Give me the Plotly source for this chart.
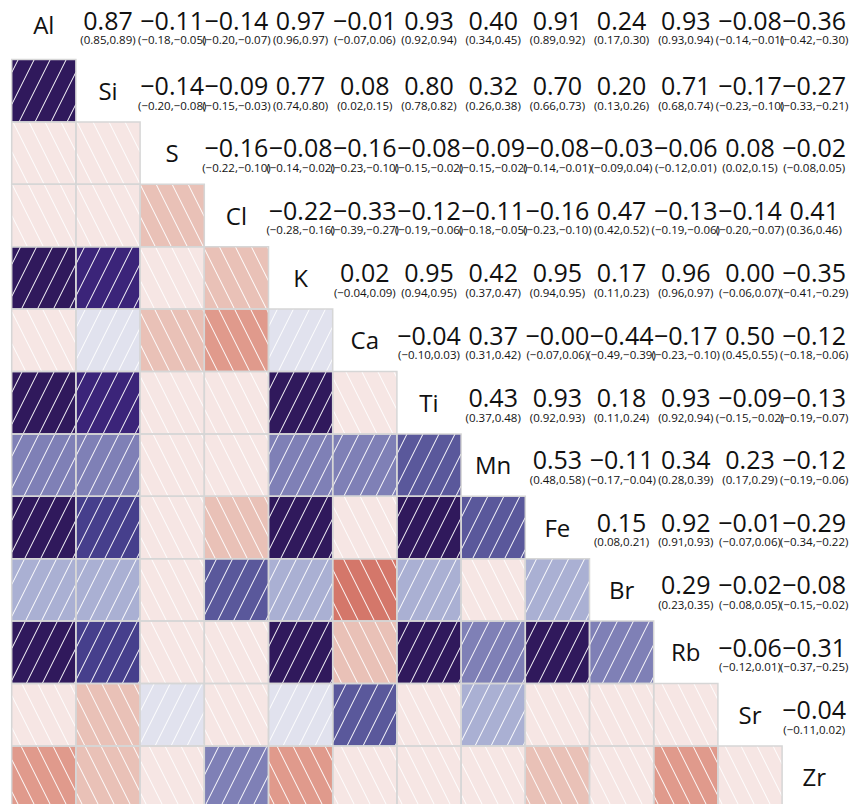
import numpy as np
import plotly.graph_objects as go

# Elements in matrix order
elements = ["Al", "Si", "S", "Cl", "K", "Ca", "Ti", "Mn", "Fe", "Br", "Rb", "Sr", "Zr"]

# Correlation r(i, j) for j > i, one list per row i
r_rows = [
    [0.87, -0.11, -0.14, 0.97, -0.01, 0.93, 0.40, 0.91, 0.24, 0.93, -0.08, -0.36],
    [-0.14, -0.09, 0.77, 0.08, 0.80, 0.32, 0.70, 0.20, 0.71, -0.17, -0.27],
    [-0.16, -0.08, -0.16, -0.08, -0.09, -0.08, -0.03, -0.06, 0.08, -0.02],
    [-0.22, -0.33, -0.12, -0.11, -0.16, 0.47, -0.13, -0.14, 0.41],
    [0.02, 0.95, 0.42, 0.95, 0.17, 0.96, 0.00, -0.35],
    [-0.04, 0.37, -0.00, -0.44, -0.17, 0.50, -0.12],
    [0.43, 0.93, 0.18, 0.93, -0.09, -0.13],
    [0.53, -0.11, 0.34, 0.23, -0.12],
    [0.15, 0.92, -0.01, -0.29],
    [0.29, -0.02, -0.08],
    [-0.06, -0.31],
    [-0.04],
]

# Lower bounds of the confidence intervals
ci_low_rows = [
    [0.85, -0.18, -0.20, 0.96, -0.07, 0.92, 0.34, 0.89, 0.17, 0.93, -0.14, -0.42],
    [-0.20, -0.15, 0.74, 0.02, 0.78, 0.26, 0.66, 0.13, 0.68, -0.23, -0.33],
    [-0.22, -0.14, -0.23, -0.15, -0.15, -0.14, -0.09, -0.12, 0.02, -0.08],
    [-0.28, -0.39, -0.19, -0.18, -0.23, 0.42, -0.19, -0.20, 0.36],
    [-0.04, 0.94, 0.37, 0.94, 0.11, 0.96, -0.06, -0.41],
    [-0.10, 0.31, -0.07, -0.49, -0.23, 0.45, -0.18],
    [0.37, 0.92, 0.11, 0.92, -0.15, -0.19],
    [0.48, -0.17, 0.28, 0.17, -0.19],
    [0.08, 0.91, -0.07, -0.34],
    [0.23, -0.08, -0.15],
    [-0.12, -0.37],
    [-0.11],
]

# Upper bounds of the confidence intervals
ci_high_rows = [
    [0.89, -0.05, -0.07, 0.97, 0.06, 0.94, 0.45, 0.92, 0.30, 0.94, -0.01, -0.30],
    [-0.08, -0.03, 0.80, 0.15, 0.82, 0.38, 0.73, 0.26, 0.74, -0.10, -0.21],
    [-0.10, -0.02, -0.10, -0.02, -0.02, -0.01, 0.04, 0.01, 0.15, 0.05],
    [-0.16, -0.27, -0.06, -0.05, -0.10, 0.52, -0.06, -0.07, 0.46],
    [0.09, 0.95, 0.47, 0.95, 0.23, 0.97, 0.07, -0.29],
    [0.03, 0.42, 0.06, -0.39, -0.10, 0.55, -0.06],
    [0.48, 0.93, 0.24, 0.94, -0.02, -0.07],
    [0.58, -0.04, 0.39, 0.29, -0.06],
    [0.21, 0.93, 0.06, -0.22],
    [0.35, 0.05, -0.02],
    [0.01, -0.25],
    [0.02],
]

# Binned diverging palette (negative -> red, positive -> purple)
bin_edges = [-0.43, -0.30, -0.15, 0.0, 0.15, 0.28, 0.43, 0.57, 0.72, 0.86]
bin_colors = ["#d4776a", "#e09a8c", "#e9c1b7", "#f6e6e4",
              "#e1e2ee", "#aab0d3", "#7f80b6", "#5a589b", "#463f8c", "#3b2479", "#30195c"]

FONT = "Open Sans"
W_FIG, H_FIG = 849, 804
COL_W, ROW_H = 64.2, 62.4        # cell pitch in pixels
X_LEFT, Y_TOP = 11.7, -2.9       # pixel position of the grid's top-left corner
HATCH_GAP, HATCH_SLOPE = 16.0, 2.0


def fmt(v):
    return f"{v:.2f}".replace("-", "\u2212")


def colour_index(v):
    if np.signbit(v) and v == 0:
        return 3
    return int(np.digitize(v, bin_edges))


def to_data(px, py):
    return (px - X_LEFT) / COL_W, (py - Y_TOP) / ROW_H


n = len(elements)
fig = go.Figure()

# Lower triangle: coloured cells with hatching
shapes = []
hx, hy = [], []
for i in range(n):
    for j in range(i):
        v = r_rows[j][i - j - 1]
        k = colour_index(v)
        shapes.append(dict(type="rect", xref="x", yref="y", x0=j, x1=j + 1, y0=i, y1=i + 1,
                           fillcolor=bin_colors[k], line=dict(width=0), layer="below"))
        pxL, pxR = X_LEFT + j * COL_W, X_LEFT + (j + 1) * COL_W
        pyT, pyB = Y_TOP + i * ROW_H, Y_TOP + (i + 1) * ROW_H
        s = HATCH_SLOPE
        if k >= 4:   # positive: "/" stripes, px + py/s = c
            cmin, cmax = pxL + pyT / s, pxR + pyB / s
        else:        # negative: "\" stripes, px - py/s = c
            cmin, cmax = pxL - pyB / s, pxR - pyT / s
        for m in range(int(np.floor(cmin / HATCH_GAP)), int(np.ceil(cmax / HATCH_GAP)) + 1):
            c = m * HATCH_GAP
            if k >= 4:
                a, b = s * (c - pxR), s * (c - pxL)
                f = lambda py: c - py / s
            else:
                a, b = s * (pxL - c), s * (pxR - c)
                f = lambda py: c + py / s
            lo, hi = max(a, pyT), min(b, pyB)
            if hi - lo < 0.5:
                continue
            x1, y1 = to_data(f(lo), lo)
            x2, y2 = to_data(f(hi), hi)
            hx += [x1, x2, None]
            hy += [y1, y2, None]

fig.add_trace(go.Scatter(x=hx, y=hy, mode="lines", line=dict(color="white", width=1),
                         hoverinfo="skip", showlegend=False))

# Cell borders on top of the hatching
for i in range(n):
    for j in range(i):
        shapes.append(dict(type="rect", xref="x", yref="y", x0=j, x1=j + 1, y0=i, y1=i + 1,
                           line=dict(color="#d6d6d6", width=1.5), fillcolor="rgba(0,0,0,0)",
                           layer="above"))

# Diagonal labels and upper-triangle values (offsets in pixels)
LAB_DY, VAL_DY, CI_DY = 3.0, -2.0, 16.0
top_shift = -3.0
lab_x, lab_y = [], []
val_x, val_y, val_t = [], [], []
ci_x, ci_y, ci_t = [], [], []
for i in range(n):
    nudge = top_shift if i == 0 else 0.0
    lab_x.append(i + 0.5)
    lab_y.append(i + 0.5 + (LAB_DY + nudge) / ROW_H)
    for j in range(i + 1, n):
        v = r_rows[i][j - i - 1]
        val_x.append(j + 0.5)
        val_y.append(i + 0.5 + (VAL_DY + nudge) / ROW_H)
        val_t.append(fmt(v))
        ci_x.append(j + 0.5)
        ci_y.append(i + 0.5 + (CI_DY + nudge) / ROW_H)
        ci_t.append(f"({fmt(ci_low_rows[i][j - i - 1])},{fmt(ci_high_rows[i][j - i - 1])})")

fig.add_trace(go.Scatter(x=lab_x, y=lab_y, mode="text", text=elements,
                         textfont=dict(family=FONT, size=24, color="#111111"),
                         hoverinfo="skip", showlegend=False, cliponaxis=False))
fig.add_trace(go.Scatter(x=val_x, y=val_y, mode="text", text=val_t,
                         textfont=dict(family=FONT, size=25, color="#111111"),
                         hoverinfo="skip", showlegend=False, cliponaxis=False))
fig.add_trace(go.Scatter(x=ci_x, y=ci_y, mode="text", text=ci_t,
                         textfont=dict(family=FONT, size=11.5, color="#111111"),
                         hoverinfo="skip", showlegend=False, cliponaxis=False))

x_range = [(0 - X_LEFT) / COL_W, (W_FIG - X_LEFT) / COL_W]
y_range = [(H_FIG - Y_TOP) / ROW_H, (0 - Y_TOP) / ROW_H]

fig.update_layout(
    width=W_FIG, height=H_FIG,
    margin=dict(l=0, r=0, t=0, b=0),
    paper_bgcolor="white", plot_bgcolor="white",
    shapes=shapes,
    xaxis=dict(range=x_range, visible=False, fixedrange=True),
    yaxis=dict(range=y_range, visible=False, fixedrange=True),
    font=dict(family=FONT),
)

fig.write_html("out.html")
